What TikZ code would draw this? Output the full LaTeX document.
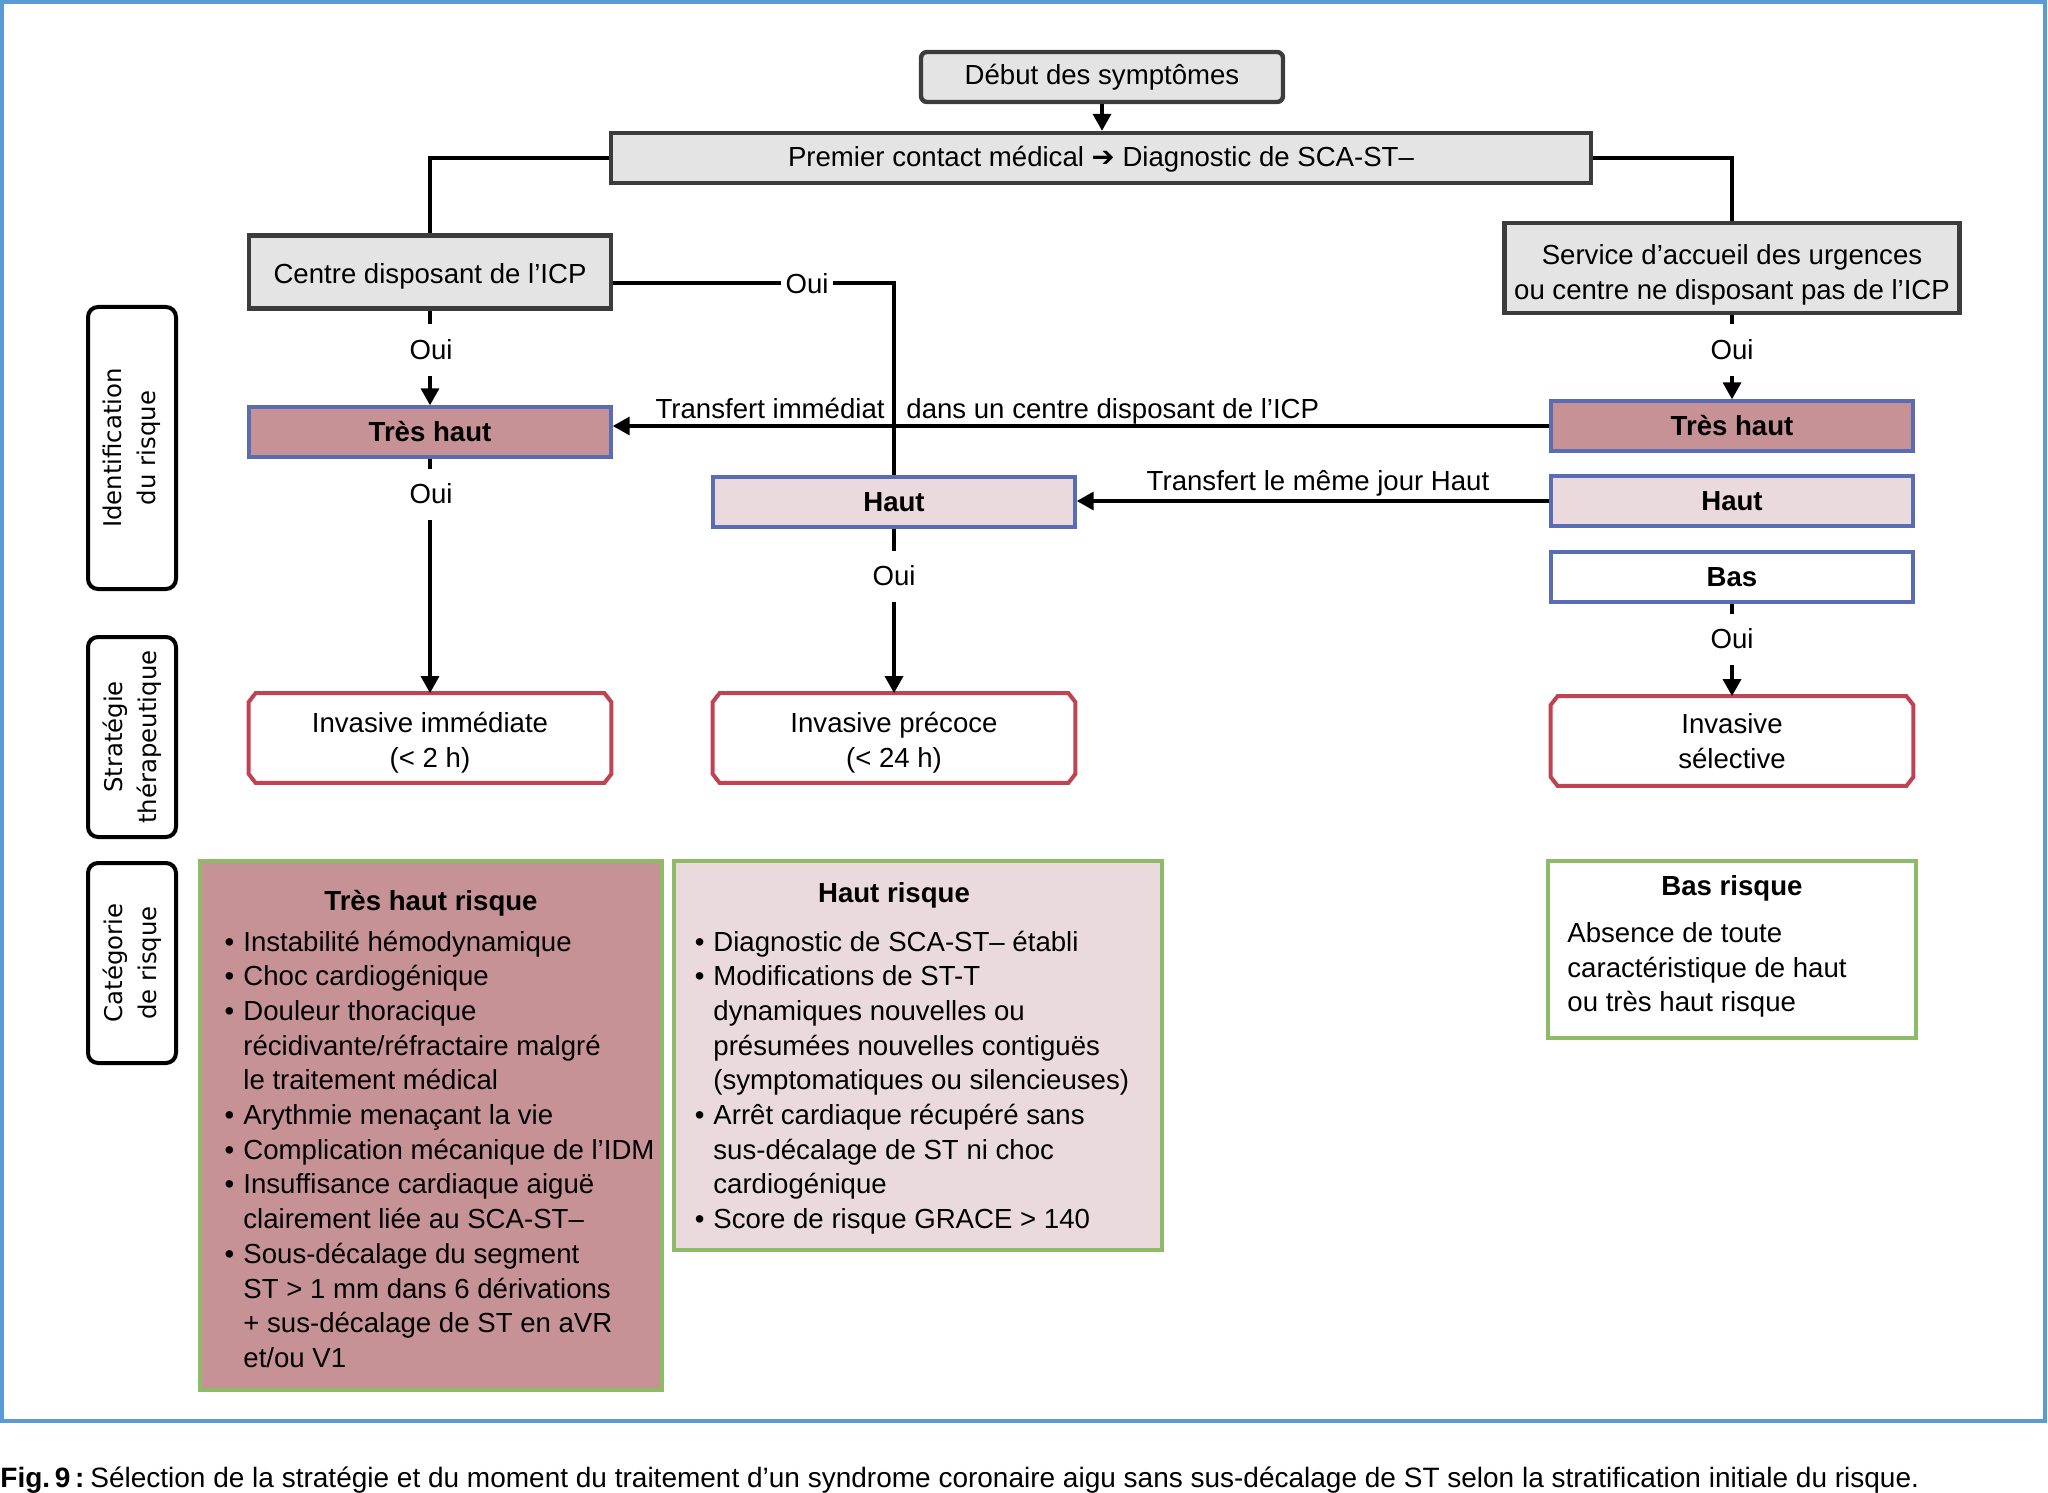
\documentclass[tikz,border=0pt]{standalone}
\usepackage{fontspec}
\setmainfont{Liberation Sans}
\newfontfamily\lblfont{DejaVu Sans}
\newfontfamily\symfont{DejaVu Sans}
\usetikzlibrary{arrows.meta,calc}
\definecolor{frameblue}{HTML}{5B9BD5}
\definecolor{boxgrey}{HTML}{E4E4E5}
\definecolor{boxborder}{HTML}{3C3C3C}
\definecolor{vhfill}{HTML}{C79296}
\definecolor{hfill}{HTML}{EBDADD}
\definecolor{riskblue}{HTML}{5A6DB3}
\definecolor{invred}{HTML}{BE4454}
\definecolor{catgreen}{HTML}{8DBB67}
\newcommand\bl{\llap{•\hspace{4.5pt}}}
\newcommand\mychamf[1]{\draw[invred, line width=2pt]
  ([xshift=3.5pt]#1.north west) -- ([xshift=-3.5pt]#1.north east) -- ([yshift=-4.5pt]#1.north east)
  -- ([yshift=4.5pt]#1.south east) -- ([xshift=-3.5pt]#1.south east) -- ([xshift=3.5pt]#1.south west)
  -- ([yshift=4.5pt]#1.south west) -- ([yshift=-4.5pt]#1.north west) -- cycle;}
\tikzset{
  txt/.style={font=\fontsize{13.8}{17.3}\selectfont},
  greybox/.style={txt, draw=boxborder, fill=boxgrey, line width=2.2pt, inner sep=0pt, align=center},
  riskbox/.style={txt, font=\fontsize{13.8}{17.3}\selectfont\bfseries, draw=riskblue, line width=1.7pt, inner sep=0pt, minimum width=181pt, minimum height=25pt},
  invbox/.style={inner sep=0pt, minimum width=181pt, minimum height=44.5pt},
  mtxt/.style={txt, align=center, inner sep=0pt},
  conn/.style={line width=1.7pt, black},
  arr/.style={conn, -{Triangle[length=8.5pt,width=9pt]}},
  oui/.style={txt, fill=white, inner xsep=2.5pt, inner ysep=8pt, text height=9.5pt, text depth=0pt},
  lblbox/.style={draw, line width=2pt, rounded corners=5pt, minimum width=44pt, inner sep=0pt},
  lbltext/.style={rotate=90, align=center, font=\lblfont\fontsize{12.2}{17}\selectfont},
  catbox/.style={draw=catgreen, line width=1.8pt, inner sep=0pt},
  line/.style={txt, anchor=base west, inner sep=0pt},
  title/.style={txt, font=\fontsize{13.8}{17.3}\selectfont\bfseries, anchor=base, inner sep=0pt}
}
\begin{document}
\begin{tikzpicture}[x=0.5pt, y=-0.5pt]
\useasboundingbox (0,0) rectangle (2048,1492);
\draw[frameblue, line width=1.8pt] (2,2) rectangle (2045,1421);

% top boxes
\node[greybox, rounded corners=3pt, minimum width=181pt, minimum height=25pt] (debut) at (1102,77) {Début des symptômes};
\node[greybox, minimum width=490pt, minimum height=25pt, text height=12pt, text depth=3pt] (premier) at (1101,158) {Premier contact médical {\symfont ➔} Diagnostic de SCA-ST–};
\node[greybox, minimum width=181pt, minimum height=36.5pt, text height=15pt, text depth=3pt] (centre) at (430,272) {Centre disposant de l’ICP};
\node[greybox, minimum width=227.5pt, minimum height=45pt] (service) at (1732,268) {};
\node[mtxt] (servicet) at ([yshift=-3.5pt]service.center) {Service d’accueil des urgences\\ou centre ne disposant pas de l’ICP};

% risk boxes
\node[riskbox, fill=vhfill] (lth) at (430,432) {Très haut};
\node[riskbox, fill=vhfill] (rth) at (1732,426) {Très haut};
\node[riskbox, fill=hfill] (mhaut) at (894,502) {Haut};
\node[riskbox, fill=hfill] (rhaut) at (1732,501) {Haut};
\node[riskbox, fill=white] (bas) at (1732,577) {Bas};

% strategy boxes
\node[invbox] (inv1) at (430,738) {};
\node[invbox] (inv2) at (894,738) {};
\node[invbox] (inv3) at (1732,741) {};
\mychamf{inv1}
\mychamf{inv2}
\mychamf{inv3}
\node[mtxt] (inv1t) at ([yshift=-2.3pt]inv1.center) {Invasive immédiate\\(< 2 h)};
\node[mtxt] (inv2t) at ([yshift=-2.3pt]inv2.center) {Invasive précoce\\(< 24 h)};
\node[mtxt] (inv3t) at (inv3.center) {Invasive\\sélective};

% connectors
\draw[arr] (debut.south) -- (debut.south |- premier.north);
\draw[conn] (premier.west) -| (centre.north);
\draw[conn] (premier.east) -| (service.north);
\draw[arr] (centre.south) -- (lth.north);
\draw[conn] ([yshift=-5.5pt]centre.east) -| (mhaut.north);
\draw[arr] (rth.west) -- (rth.west -| lth.east);
\draw[arr] (rhaut.west) -- (rhaut.west -| mhaut.east);
\draw[arr] (lth.south) -- (inv1.north);
\draw[arr] (mhaut.south) -- (inv2.north);
\draw[arr] (service.south) -- (rth.north);
\draw[arr] (bas.south) -- (inv3.north);

\node[oui] (o1) at (431,350) {Oui};
\node[oui] (o2) at (431,494) {Oui};
\node[oui] (o3) at (807,284) {Oui};
\node[oui] (o4) at (894,576) {Oui};
\node[oui] (o5) at (1732,350) {Oui};
\node[oui] (o6) at (1732,639) {Oui};

\node[txt, anchor=base east, inner sep=0pt] (t1a) at (885,418) {Transfert immédiat};
\node[txt, anchor=base west, inner sep=0pt] (t1b) at (906,418) {dans un centre disposant de l’ICP};
\node[txt, anchor=base, inner sep=0pt] (t2) at (1318,490) {Transfert le même jour Haut};

% side labels
\node[lblbox, minimum height=141pt] (l1) at (132,448) {};
\node[lbltext] (l1t) at (l1.center) {Identification\\du risque};
\node[lblbox, minimum height=100pt] (l2) at (132,737) {};
\node[lbltext] (l2t) at (l2.center) {Stratégie\\thérapeutique};
\node[lblbox, minimum height=100pt] (l3) at (132,963) {};
\node[lbltext] (l3t) at (l3.center) {Catégorie\\de risque};

% category boxes
\node[catbox, fill=vhfill, minimum width=231pt, minimum height=264.5pt] (c1) at (431,1125.5) {};
\node[catbox, fill=hfill, minimum width=244pt, minimum height=194.5pt] (c2) at (918,1055.5) {};
\node[catbox, fill=white, minimum width=184pt, minimum height=88.5pt] (c3) at (1732,949.5) {};

\node[title] (c1t) at (431,910) {Très haut risque};
\foreach \t [count=\i from 0] in {\bl Instabilité hémodynamique, \bl Choc cardiogénique, \bl Douleur thoracique, récidivante/réfractaire malgré, le traitement médical, \bl Arythmie menaçant la vie, \bl Complication mécanique de l’IDM, \bl Insuffisance cardiaque aiguë, clairement liée au SCA-ST–, \bl Sous-décalage du segment, ST > 1 mm dans 6 dérivations, + sus-décalage de ST en aVR, et/ou V1}
  \node[line] (c1l\i) at (243,951+\i*34.7) {\t};

\node[title] (c2t) at (894,902) {Haut risque};
\foreach \t [count=\i from 0] in {\bl Diagnostic de SCA-ST– établi, \bl Modifications de ST-T, dynamiques nouvelles ou, présumées nouvelles contiguës, (symptomatiques ou silencieuses), \bl Arrêt cardiaque récupéré sans, sus-décalage de ST ni choc, cardiogénique, \bl Score de risque GRACE > 140}
  \node[line] (c2l\i) at (713,951+\i*34.7) {\t};

\node[title] (c3t) at (1732,895) {Bas risque};
\node[line] (c3l0) at (1567,942) {Absence de toute};
\node[line] (c3l1) at (1567,977) {caractéristique de haut};
\node[line] (c3l2) at (1567,1011) {ou très haut risque};

% caption
\node[anchor=base west, inner sep=0pt, font=\fontsize{14}{17}\selectfont] (cap) at (0,1487) {\textbf{Fig.\,9\,:}\hspace{3pt}Sélection de la stratégie et du moment du traitement d’un syndrome coronaire aigu sans sus-décalage de ST selon la stratification initiale du risque.};
\end{tikzpicture}
\end{document}
